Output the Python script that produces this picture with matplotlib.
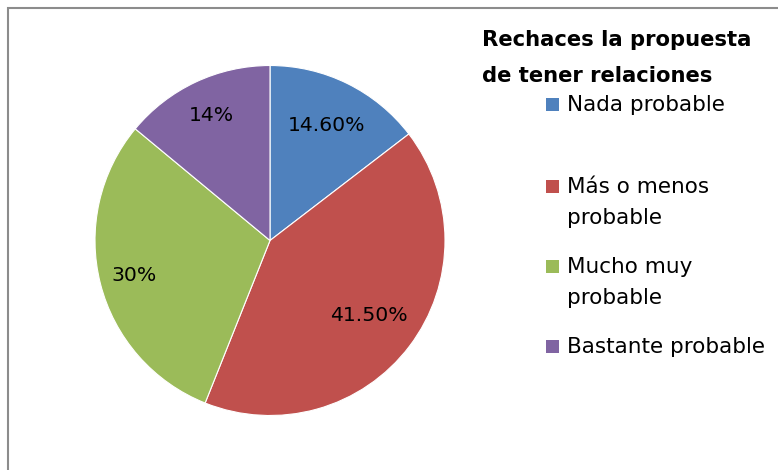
import matplotlib
matplotlib.use("Agg")
import matplotlib.pyplot as plt
import numpy as np
from matplotlib.patches import Rectangle

categories = ["Nada probable", "Más o menos\nprobable", "Mucho muy\nprobable", "Bastante probable"]
values = [14.6, 41.5, 30, 14]
pct_labels = ["14.60%", "41.50%", "30%", "14%"]
colors = ["#4F81BD", "#C0504D", "#9BBB59", "#8064A2"]
title_lines = ["Rechaces la propuesta", "de tener relaciones"]

# label placement per slice (fraction of radius), as Excel's best fit put them
label_dist = [0.73, 0.71, 0.80, 0.79]

W, H = 778, 470
plt.rcParams['font.family'] = ['DejaVu Sans']

fig = plt.figure(figsize=(W / 100, H / 100), dpi=100)


def fx(x):
    return x / W


def fy(y):
    return 1 - y / H


# chart border, the right and bottom edges fall outside the crop
border = Rectangle((fx(8), fy(500)), 900 / W, (500 - 7.5) / H,
                   transform=fig.transFigure, fill=False,
                   edgecolor="#8c8c8c", linewidth=1.5, zorder=0)
fig.patches.append(border)

cx, cy, r = 270, 240.5, 175
ax = fig.add_axes([fx(cx - r), fy(cy + r), 2 * r / W, 2 * r / H])
labels_iter = iter(pct_labels)
wedges, texts, autotexts = ax.pie(values, colors=colors, startangle=90, counterclock=False,
                                  autopct=lambda p: next(labels_iter), pctdistance=0.75,
                                  wedgeprops=dict(edgecolor="white", linewidth=0.8),
                                  textprops=dict(fontsize=14.7, color="black"))
for w, t, d in zip(wedges, autotexts, label_dist):
    ang = np.deg2rad((w.theta1 + w.theta2) / 2)
    t.set_position((d * np.cos(ang), d * np.sin(ang)))
ax.set_xlim(-1, 1)
ax.set_ylim(-1, 1)
ax.set_aspect("equal")

for i, line in enumerate(title_lines):
    fig.text(fx(482), fy(46 + i * 36), line, fontsize=15.2, fontweight="bold",
             ha="left", va="baseline")

# legend
legend_y = [111, 193, 273, 353]
for lab, col, yb in zip(categories, colors, legend_y):
    fig.patches.append(Rectangle((fx(546), fy(yb)), 13 / W, 13 / H,
                                 transform=fig.transFigure, facecolor=col, edgecolor="none"))
    for i, line in enumerate(lab.split("\n")):
        fig.text(fx(567), fy(yb + i * 30.5), line, fontsize=15.5,
                 ha="left", va="baseline")

fig.savefig("out.png", dpi=100)
